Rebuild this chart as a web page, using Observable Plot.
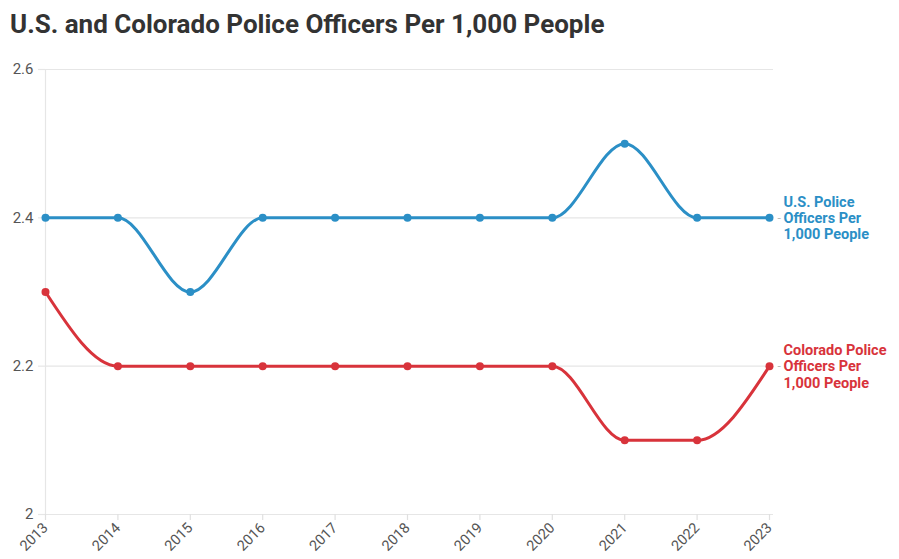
<!DOCTYPE html>
<html>
<head>
<meta charset="utf-8">
<script src="https://cdn.jsdelivr.net/npm/d3@7"></script>
<script src="https://cdn.jsdelivr.net/npm/@observablehq/plot@0.6"></script>
<style>
  html, body { margin: 0; padding: 0; background: #fff; }
  #title {
    font-family: Roboto, sans-serif; font-weight: 700; font-size: 26px;
    color: #333; height: 50px; box-sizing: border-box;
    padding: 9px 0 0 10px; line-height: 30px; white-space: nowrap;
  }
  #chart svg { display: block; }
</style>
</head>
<body>
<div id="title">U.S. and Colorado Police Officers Per 1,000 People</div>
<div id="chart"></div>
<script>
const years = [2013, 2014, 2015, 2016, 2017, 2018, 2019, 2020, 2021, 2022, 2023];
const usOfficers = [2.4, 2.4, 2.3, 2.4, 2.4, 2.4, 2.4, 2.4, 2.5, 2.4, 2.4];
const coOfficers = [2.3, 2.2, 2.2, 2.2, 2.2, 2.2, 2.2, 2.2, 2.1, 2.1, 2.2];
const seriesNames = ["U.S. Police\nOfficers Per\n1,000 People", "Colorado Police\nOfficers Per\n1,000 People"];
const seriesColors = ["#2b8fc6", "#d8333b"];
const yTicks = [2, 2.2, 2.4, 2.6];

const rows = [
  ...years.map((year, i) => ({year, value: usOfficers[i], series: seriesNames[0]})),
  ...years.map((year, i) => ({year, value: coOfficers[i], series: seriesNames[1]}))
];
const last = rows.filter(d => d.year === years[years.length - 1]);

const chart = Plot.plot({
  width: 899,
  height: 509,
  marginTop: 19,
  marginBottom: 45,
  marginLeft: 45,
  marginRight: 130,
  style: {fontFamily: "Roboto, sans-serif", fontSize: "14px", color: "#555", background: "#fff"},
  x: {type: "linear", domain: [years[0], years[years.length - 1]], label: null},
  y: {domain: [2, 2.6], label: null},
  color: {domain: seriesNames, range: seriesColors},
  marks: [
    Plot.gridY(yTicks, {stroke: "#e6e6e6", strokeOpacity: 1, strokeWidth: 1.2, insetRight: -4}),
    Plot.ruleX([years[0]], {stroke: "#e6e6e6", strokeWidth: 1.2}),
    Plot.axisY(yTicks, {tickSize: 7, stroke: "#e6e6e6", strokeWidth: 1.2, tickPadding: 5, fontSize: 15, fill: "#555", tickFormat: d => String(d)}),
    Plot.axisX(years, {tickSize: 6, stroke: "#e0e0e0", strokeWidth: 1.2, tickRotate: -45, tickPadding: 5, fontSize: 14.5, fill: "#555", tickFormat: d => String(d)}),
    Plot.line(rows, {x: "year", y: "value", z: "series", stroke: "series", strokeWidth: 3, curve: "monotone-x"}),
    Plot.dot(rows, {x: "year", y: "value", fill: "series", r: 4}),
    Plot.text(last, {x: "year", y: "value", text: () => "-", fill: "#bbbbbb", dx: 8, textAnchor: "start", fontSize: 12}),
    Plot.text(last, {x: "year", y: "value", text: "series", fill: "series", dx: 14, textAnchor: "start", lineAnchor: "middle", fontWeight: 700, fontSize: 14.5, lineHeight: 1.12})
  ]
});
document.getElementById("chart").appendChild(chart);
</script>
</body>
</html>
